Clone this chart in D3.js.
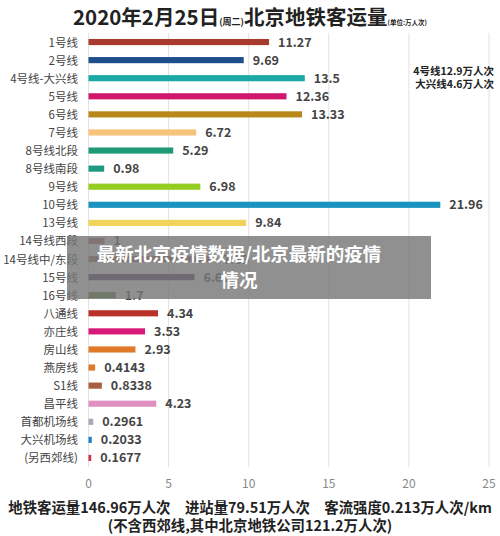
<!DOCTYPE html>
<html><head><meta charset="utf-8">
<script src="https://cdn.jsdelivr.net/npm/d3@7"></script>
<style>body{margin:0;background:#fff}svg{font-family:"Noto Sans CJK SC","Noto Sans",sans-serif}</style>
</head><body><svg id="c" width="500" height="536"></svg>
<script>
const categories=["1号线","2号线","4号线-大兴线","5号线","6号线","7号线","8号线北段","8号线南段","9号线","10号线","13号线","14号线西段","14号线中/东段","15号线","16号线","八通线","亦庄线","房山线","燕房线","S1线","昌平线","首都机场线","大兴机场线","(另西郊线)"];
const values=[11.27,9.69,13.5,12.36,13.33,6.72,5.29,0.98,6.98,21.96,9.84,1,7.83,6.61,1.7,4.34,3.53,2.93,0.4143,0.8338,4.23,0.2961,0.2033,0.1677];
const labels=["11.27","9.69","13.5","12.36","13.33","6.72","5.29","0.98","6.98","21.96","9.84","1","7.83","6.61","1.7","4.34","3.53","2.93","0.4143","0.8338","4.23","0.2961","0.2033","0.1677"];
const colors=["#a93a2e","#1d4f8c","#1ba9a5","#d0176e","#b8891a","#f7c27a","#1f9a76","#1f9a80","#94cc20","#1a93c0","#f0d45a","#a8685e","#a8685e","#4a2a5e","#4a7a2a","#b8322a","#d8197a","#e07a2a","#e07a2a","#a86040","#e090c0","#a8a8b8","#2080c0","#d03040"];
const ticks=[0,5,10,15,20,25];
const svg=d3.select("#c");
const x=d3.scaleLinear().domain([0,25]).range([88.5,489]);
const y=d3.scaleBand().domain(categories).range([33,467]).paddingInner(0.66).paddingOuter(0.33);
svg.append("g").selectAll("line").data(ticks).join("line").attr("x1",d=>x(d)).attr("x2",d=>x(d)).attr("y1",33).attr("y2",467).attr("stroke","#e2e2e2");
svg.append("g").selectAll("text").data(ticks).join("text").attr("x",d=>x(d)).attr("y",488).attr("text-anchor","middle").attr("font-size",12).attr("fill","#888").text(d=>d);
svg.append("g").selectAll("rect").data(values).join("rect").attr("x",x(0)).attr("y",(d,i)=>y(categories[i])).attr("height",y.bandwidth()).attr("width",d=>x(d)-x(0)).attr("fill",(d,i)=>colors[i]);
svg.append("g").selectAll("text").data(values).join("text").attr("x",d=>x(d)+9).attr("y",(d,i)=>y(categories[i])+y.bandwidth()/2+4.5).attr("font-size",12.5).attr("font-weight","bold").attr("fill","#444").text((d,i)=>labels[i]);
svg.append("g").selectAll("text").data(categories).join("text").attr("x",78).attr("y",d=>y(d)+y.bandwidth()/2+4.5).attr("text-anchor","end").attr("font-size",11.5).attr("fill","#444").text(d=>d);
const t=svg.append("text").attr("x",250).attr("y",25).attr("text-anchor","middle").attr("font-weight","bold").attr("fill","#222");
t.append("tspan").attr("font-size",20.5).text("2020年2月25日");
t.append("tspan").attr("font-size",9).text("(周二)");
t.append("tspan").attr("font-size",20.5).text("北京地铁客运量");
t.append("tspan").attr("font-size",6.5).text("(单位:万人次)");
svg.append("text").attr("x",494).attr("y",75).attr("text-anchor","end").attr("font-size",10.5).attr("font-weight","bold").attr("fill","#222").text("4号线12.9万人次");
svg.append("text").attr("x",494).attr("y",88).attr("text-anchor","end").attr("font-size",10.5).attr("font-weight","bold").attr("fill","#222").text("大兴线4.6万人次");
svg.append("text").attr("x",250).attr("y",513).attr("text-anchor","middle").attr("font-size",14.4).attr("font-weight","bold").attr("fill","#222").text("地铁客运量146.96万人次　进站量79.51万人次　客流强度0.213万人次/km");
svg.append("text").attr("x",250).attr("y",531).attr("text-anchor","middle").attr("font-size",14.4).attr("font-weight","bold").attr("fill","#222").text("(不含西郊线,其中北京地铁公司121.2万人次)");
svg.append("rect").attr("x",67).attr("y",236).attr("width",364).attr("height",63).attr("fill","rgba(120,120,120,0.82)");
svg.append("text").attr("x",239).attr("y",261).attr("text-anchor","middle").attr("font-size",18.5).attr("font-weight","bold").attr("fill","#fff").text("最新北京疫情数据/北京最新的疫情");
svg.append("text").attr("x",239).attr("y",287).attr("text-anchor","middle").attr("font-size",18.5).attr("font-weight","bold").attr("fill","#fff").text("情况");
</script></body></html>
